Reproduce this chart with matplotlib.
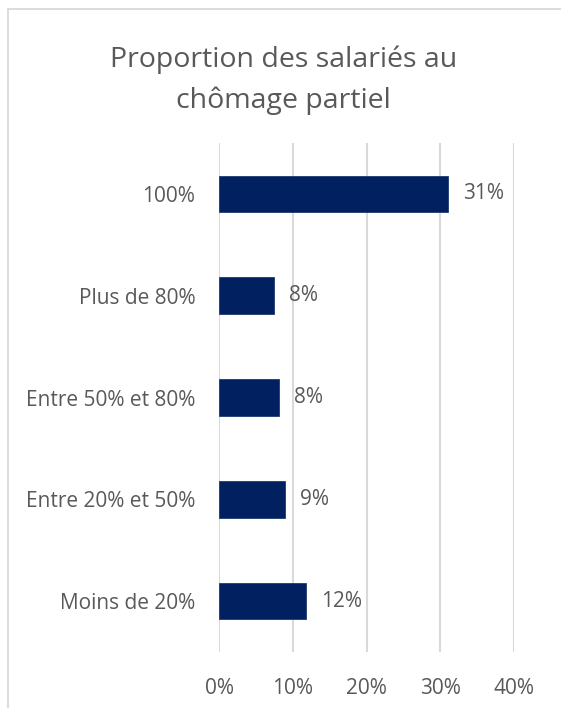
import matplotlib.pyplot as plt
from matplotlib.patches import Rectangle

# data
categories = ["100%", "Plus de 80%", "Entre 50% et 80%", "Entre 20% et 50%", "Moins de 20%"]
values = [0.31, 0.075, 0.081, 0.089, 0.118]
labels = ["31%", "8%", "8%", "9%", "12%"]
xticks = [0, 0.1, 0.2, 0.3, 0.4]
xticklabels = ["0%", "10%", "20%", "30%", "40%"]

plt.rcParams['font.family'] = ['Open Sans', 'DejaVu Sans']
textColor = "#595959"
barColor = "#002060"

W, H = 561, 708
fig = plt.figure(figsize=(W/100, H/100), dpi=100)

# chart border like excel (only left/top show, the rest is cut off)
fig.patches.append(Rectangle((7.5/W, -0.1), 1.2, 1.1 - 9.5/H, transform=fig.transFigure,
                             fill=False, edgecolor="#d9d9d9", linewidth=1.3))

ax = fig.add_axes([219/W, 1 - 652/H, (514.3-219)/W, (652-143)/H])
pos = list(range(len(categories)))
ax.barh(pos, values, height=0.36, color=barColor, edgecolor="#1f3a70", linewidth=0.6, zorder=3)
ax.set_ylim(len(categories) - 0.5, -0.5)
ax.set_xlim(0, 0.4)

for p, v, lab in zip(pos, values, labels):
    ax.annotate(lab, (v, p), xytext=(15, 0), textcoords="offset pixels",
                va="center", ha="left", fontsize=15, color=textColor)

ax.set_xticks(xticks)
ax.set_xticklabels(xticklabels, fontsize=15, color=textColor)
ax.set_yticks(pos)
ax.set_yticklabels(categories, fontsize=15, color=textColor)
ax.tick_params(axis="both", length=0)
ax.tick_params(axis="x", pad=19)
ax.tick_params(axis="y", pad=17)
ax.grid(axis="x", color="#d9d9d9", linewidth=1.5, zorder=0)
for s in ax.spines.values():
    s.set_visible(False)

fig.text(0.5 + 3/W, 1 - 80/H, "Proportion des salariés au\nchômage partiel", ha="center", va="center",
         fontsize=20.5, color=textColor, linespacing=1.6)

fig.savefig("out.png", dpi=100)
